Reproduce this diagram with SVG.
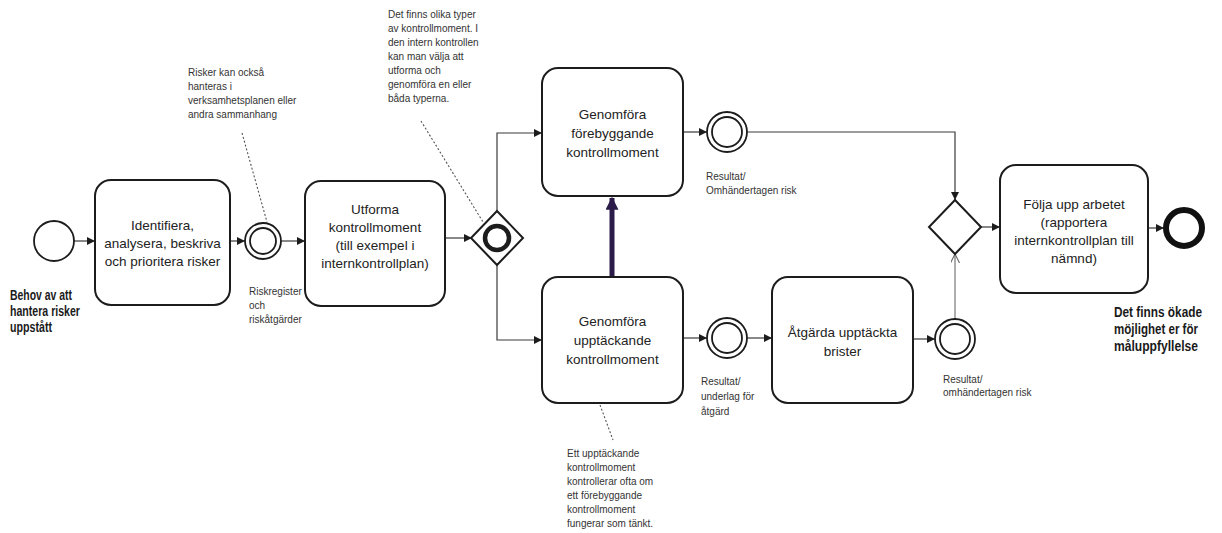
<svg xmlns="http://www.w3.org/2000/svg" width="1222" height="533" viewBox="0 0 1222 533">
<defs>
<style>
.task{fill:#fff;stroke:#1c1c1c;stroke-width:2}
.ev{fill:#fff;stroke:#1c1c1c;stroke-width:1.8}
.flow{fill:none;stroke:#3a3a3a;stroke-width:1.2}
.assoc{fill:none;stroke:#555;stroke-width:1.1;stroke-dasharray:2 2}
.t{font-family:"Liberation Sans Narrow","Liberation Sans",Arial,sans-serif;font-size:13.5px;fill:#222;text-anchor:middle}
.b{font-family:"Liberation Sans Narrow","Liberation Sans",Arial,sans-serif;font-size:15px;font-weight:bold;fill:#1a1a1a}
.b2{font-family:"Liberation Sans Narrow","Liberation Sans",Arial,sans-serif;font-size:14px;font-weight:bold;fill:#1a1a1a}
.s{font-family:"Liberation Sans Narrow","Liberation Sans",Arial,sans-serif;font-size:10px;fill:#333}
</style>
<marker id="ah" viewBox="0 0 10 10" refX="10" refY="5" markerWidth="8" markerHeight="8" markerUnits="userSpaceOnUse" orient="auto">
<path d="M0,0 L10,5 L0,10 z" fill="#1c1c1c"/>
</marker>
<marker id="ahT" viewBox="0 0 10 10" refX="9" refY="5" markerWidth="2.8" markerHeight="2.6" orient="auto">
<path d="M0,0 L10,5 L0,10 z" fill="#2b1b48"/>
</marker>
<marker id="ahO" viewBox="0 0 10 10" refX="10" refY="5" markerWidth="9" markerHeight="9" markerUnits="userSpaceOnUse" orient="auto">
<path d="M0,0 L10,5 L0,10" fill="none" stroke="#666" stroke-width="1.2"/>
</marker>
</defs>
<rect width="1222" height="533" fill="#fff"/>

<g id="connectors">
<line class="flow" x1="74" y1="241" x2="95" y2="241" marker-end="url(#ah)"/>
<line class="flow" x1="230" y1="241" x2="245" y2="241" marker-end="url(#ah)"/>
<line class="flow" x1="281" y1="241" x2="305" y2="241" marker-end="url(#ah)"/>
<line class="flow" x1="445" y1="238" x2="472" y2="238" marker-end="url(#ah)"/>
<path class="flow" d="M497,211 V133 H542" marker-end="url(#ah)"/>
<path class="flow" d="M497,265 V340 H542" marker-end="url(#ah)"/>
<path d="M612,277 V198" fill="none" stroke="#2b1b48" stroke-width="5" marker-end="url(#ahT)"/>
<line class="flow" x1="683" y1="132" x2="707" y2="132" marker-end="url(#ah)"/>
<path class="flow" d="M747,132 H955 V200" marker-end="url(#ah)"/>
<line class="flow" x1="683" y1="338" x2="707" y2="338" marker-end="url(#ah)"/>
<line class="flow" x1="747" y1="338" x2="772" y2="338" marker-end="url(#ah)"/>
<line class="flow" x1="913" y1="339" x2="935" y2="339" marker-end="url(#ah)"/>
<line class="flow" x1="955" y1="319" x2="955" y2="254" style="stroke:#777" marker-end="url(#ahO)"/>
<line class="flow" x1="981" y1="227" x2="1000" y2="227" marker-end="url(#ah)"/>
<line class="flow" x1="1148" y1="228" x2="1164" y2="228" marker-end="url(#ah)"/>
<line class="assoc" x1="242" y1="133" x2="267" y2="222"/>
<line class="assoc" x1="421" y1="121" x2="483" y2="222"/>
<line class="assoc" x1="600" y1="405" x2="613" y2="440"/>
</g>

<g id="start">
<circle class="ev" cx="54" cy="241" r="20"/>
<text class="b" x="10" y="300" textLength="62" lengthAdjust="spacingAndGlyphs">Behov av att</text>
<text class="b" x="10" y="316" textLength="70" lengthAdjust="spacingAndGlyphs">hantera risker</text>
<text class="b" x="10" y="332" textLength="42" lengthAdjust="spacingAndGlyphs">uppstått</text>
</g>

<g id="task-identifiera">
<rect class="task" x="95" y="180" width="135" height="125" rx="16"/>
<text class="t"><tspan x="162.5" y="230">Identifiera,</tspan><tspan x="162.5" y="248">analysera, beskriva</tspan><tspan x="162.5" y="266">och prioritera risker</tspan></text>
</g>

<g id="event-riskregister">
<circle class="ev" cx="263" cy="241" r="18"/>
<circle class="ev" cx="263" cy="241" r="13"/>
<text class="s"><tspan x="249" y="295">Riskregister</tspan><tspan x="249" y="309">och</tspan><tspan x="249" y="323">riskåtgärder</tspan></text>
</g>

<g id="note-risker">
<text class="s"><tspan x="188" y="76">Risker kan också</tspan><tspan x="188" y="90">hanteras i</tspan><tspan x="188" y="104">verksamhetsplanen eller</tspan><tspan x="188" y="118">andra sammanhang</tspan></text>
</g>

<g id="task-utforma">
<rect class="task" x="305" y="181" width="140" height="125" rx="16"/>
<text class="t"><tspan x="375" y="214">Utforma</tspan><tspan x="375" y="232">kontrollmoment</tspan><tspan x="375" y="250">(till exempel i</tspan><tspan x="375" y="268">internkontrollplan)</tspan></text>
</g>

<g id="note-typer">
<text class="s"><tspan x="388" y="18">Det finns olika typer</tspan><tspan x="388" y="32">av kontrollmoment. I</tspan><tspan x="388" y="46">den intern kontrollen</tspan><tspan x="388" y="60">kan man välja att</tspan><tspan x="388" y="74">utforma och</tspan><tspan x="388" y="88">genomföra en eller</tspan><tspan x="388" y="102">båda typerna.</tspan></text>
</g>

<g id="gateway-1">
<path d="M497,211 L523,238 L497,265 L471,238 Z" fill="#fff" stroke="#1c1c1c" stroke-width="2"/>
<circle cx="497" cy="238" r="12" fill="none" stroke="#1c1c1c" stroke-width="4.5"/>
</g>

<g id="task-forebyggande">
<rect class="task" x="542" y="68" width="141" height="128" rx="16"/>
<text class="t"><tspan x="612.5" y="119">Genomföra</tspan><tspan x="612.5" y="138">förebyggande</tspan><tspan x="612.5" y="157">kontrollmoment</tspan></text>
</g>

<g id="event-resultat-1">
<circle class="ev" cx="727" cy="132" r="20"/>
<circle class="ev" cx="727" cy="132" r="15"/>
<text class="s"><tspan x="706" y="180">Resultat/</tspan><tspan x="706" y="194">Omhändertagen risk</tspan></text>
</g>

<g id="task-upptackande">
<rect class="task" x="542" y="277" width="141" height="126" rx="16"/>
<text class="t"><tspan x="612.5" y="326">Genomföra</tspan><tspan x="612.5" y="345">upptäckande</tspan><tspan x="612.5" y="364">kontrollmoment</tspan></text>
</g>

<g id="note-upptackande">
<text class="s"><tspan x="567" y="457">Ett upptäckande</tspan><tspan x="567" y="471">kontrollmoment</tspan><tspan x="567" y="485">kontrollerar ofta om</tspan><tspan x="567" y="499">ett förebyggande</tspan><tspan x="567" y="513">kontrollmoment</tspan><tspan x="567" y="527">fungerar som tänkt.</tspan></text>
</g>

<g id="event-resultat-2">
<circle class="ev" cx="727" cy="338" r="20"/>
<circle class="ev" cx="727" cy="338" r="15"/>
<text class="s"><tspan x="701" y="385">Resultat/</tspan><tspan x="701" y="400">underlag för</tspan><tspan x="701" y="415">åtgärd</tspan></text>
</g>

<g id="task-atgarda">
<rect class="task" x="772" y="277" width="141" height="126" rx="16"/>
<text class="t"><tspan x="842.5" y="337">Åtgärda upptäckta</tspan><tspan x="842.5" y="356">brister</tspan></text>
</g>

<g id="event-resultat-3">
<circle class="ev" cx="955" cy="339" r="20"/>
<circle class="ev" cx="955" cy="339" r="15"/>
<text class="s"><tspan x="943" y="383">Resultat/</tspan><tspan x="943" y="396">omhändertagen risk</tspan></text>
</g>

<g id="gateway-2">
<path d="M955,200 L981,227 L955,254 L929,227 Z" fill="#fff" stroke="#1c1c1c" stroke-width="2"/>
</g>

<g id="task-folja-upp">
<rect class="task" x="1000" y="165" width="148" height="128" rx="16"/>
<text class="t"><tspan x="1074" y="209">Följa upp arbetet</tspan><tspan x="1074" y="227">(rapportera</tspan><tspan x="1074" y="245">internkontrollplan till</tspan><tspan x="1074" y="263">nämnd)</tspan></text>
</g>

<g id="end">
<circle cx="1184" cy="228" r="18" fill="#fff" stroke="#111" stroke-width="6"/>
<text class="b2" x="1114" y="317" textLength="88" lengthAdjust="spacingAndGlyphs">Det finns ökade</text>
<text class="b2" x="1114" y="334" textLength="84" lengthAdjust="spacingAndGlyphs">möjlighet er för</text>
<text class="b2" x="1114" y="351" textLength="84" lengthAdjust="spacingAndGlyphs">måluppfyllelse</text>
</g>
</svg>
